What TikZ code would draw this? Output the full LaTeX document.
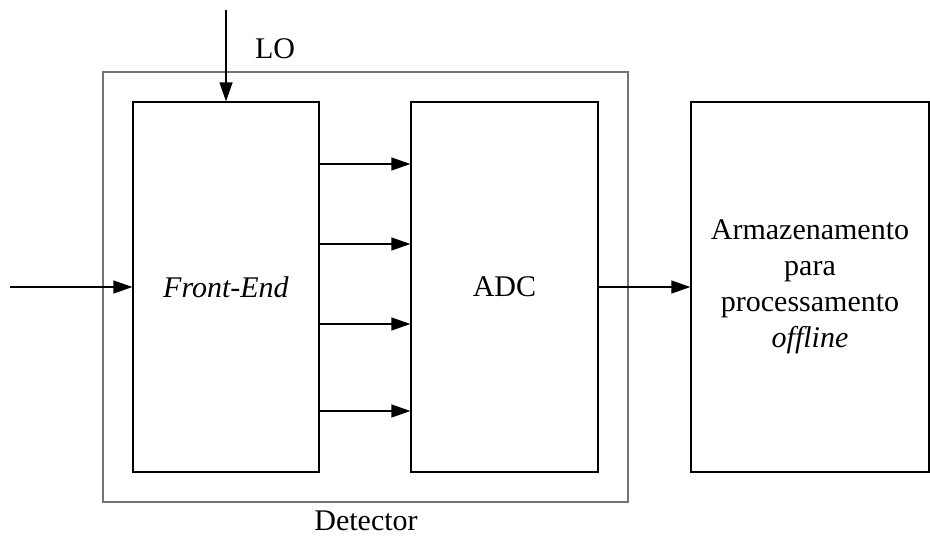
\documentclass[tikz,border=0pt]{standalone}
\usepackage{fontspec}
\setmainfont{Liberation Serif}
\usetikzlibrary{arrows.meta}

\begin{document}
\begin{tikzpicture}[x=1pt,y=-1pt,
	every node/.style={font=\fontsize{30}{36}\selectfont},
	bloco/.style={draw,line width=1.3pt,inner sep=0pt,minimum height=370pt},
	seta/.style={-{Triangle[length=19pt,width=13pt]},line width=1.3pt}]
	\useasboundingbox (0,0) rectangle (930,536);
	
	\node[bloco, draw=gray!90!black, minimum width=525pt, minimum height=430pt] (Det) at (365.5,287) {};
	\node[bloco, minimum width=186pt] (FE) at (226,287) {\textit{Front-End}};
	\node[bloco, minimum width=187pt] (ADC) at (504.5,287) {ADC};
	\node[bloco, minimum width=238pt, align=center] (Arm) at (810,287) {Armazenamento\\para\\processamento\\\textit{offline}};
	
	\coordinate (LOin) at (226,10);
	\coordinate (In) at (10,287);
	
	\draw[seta] (LOin) -- (FE.north -| LOin);
	\draw[seta] (In) -- (FE.west);
	\foreach \y in {164,244,324,411}
		\draw[seta] (FE.east |- 0,\y) -- (ADC.west |- 0,\y);
	\draw[seta] (ADC.east) -- (Arm.west);
	
	\node (LO) at (275,49) {LO};
	\node (DetLbl) at (366,521) {Detector};
\end{tikzpicture}
\end{document}
